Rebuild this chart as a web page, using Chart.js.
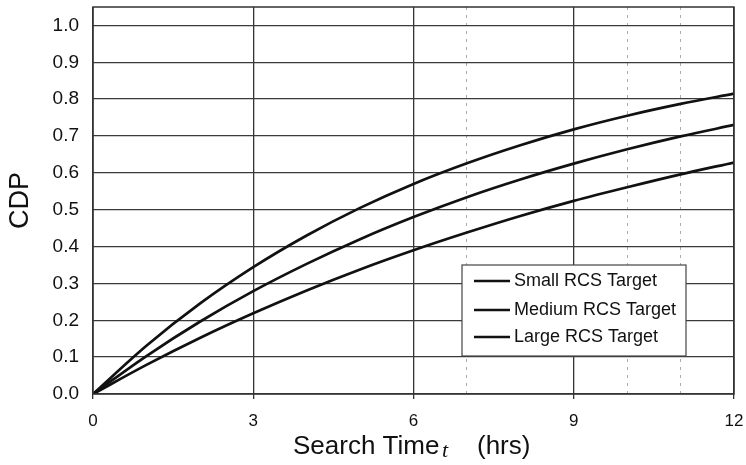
<!DOCTYPE html>
<html lang="en">
<head>
  <meta charset="UTF-8">
  <title>CDP vs Search Time</title>
  <script src="https://cdn.jsdelivr.net/npm/chart.js"></script>
  <style>
    body { margin: 0; background: #fff; }
    #wrap { width: 746px; height: 465px; }
  </style>
</head>
<body>
  <div id="wrap"><canvas id="cdpChart" width="746" height="465"></canvas></div>

  <script>
    // values, one per hour
    const hours = [0, 1, 2, 3, 4, 5, 6, 7, 8, 9, 10, 11, 12];
    const cdpSmall = [0, 0.131, 0.245, 0.344, 0.430, 0.505, 0.570, 0.626, 0.675, 0.718, 0.755, 0.787, 0.815];
    const cdpMedium = [0, 0.103, 0.196, 0.279, 0.353, 0.420, 0.480, 0.534, 0.582, 0.625, 0.664, 0.699, 0.730];
    const cdpLarge = [0, 0.079, 0.152, 0.219, 0.281, 0.338, 0.390, 0.438, 0.483, 0.524, 0.561, 0.596, 0.628];
    const seriesNames = ['Small RCS Target', 'Medium RCS Target', 'Large RCS Target'];
    const xLabelTicks = [0, 3, 6, 9, 12];
    const yTickValues = [0, 0.1, 0.2, 0.3, 0.4, 0.5, 0.6, 0.7, 0.8, 0.9, 1.0];
    const dottedHours = [7, 10, 11]; // faint dotted verticals in the scan

    const fonte = "'Liberation Sans', Arial, Helvetica, sans-serif";

    function pontos(lista) {
      return hours.map(function (h, i) { return { x: h, y: lista[i] }; });
    }

    // frame around the plot + x title (with italic t) + legend box inside the plot
    const extras = {
      id: 'extras',
      afterDraw(chart) {
        const ctx = chart.ctx;
        const a = chart.chartArea;
        ctx.save();

        ctx.strokeStyle = '#333';
        ctx.lineWidth = 1.5;
        ctx.strokeRect(a.left, a.top, a.right - a.left, a.bottom - a.top);

        // legend
        const lx = a.left + 369, ly = a.top + 258, lw = 224, lh = 91;
        ctx.fillStyle = '#fff';
        ctx.fillRect(lx, ly, lw, lh);
        ctx.strokeStyle = '#444';
        ctx.lineWidth = 1.2;
        ctx.strokeRect(lx, ly, lw, lh);
        ctx.font = '18px ' + fonte;
        ctx.textBaseline = 'middle';
        ctx.textAlign = 'left';
        const rows = [16, 45, 72];
        for (let i = 0; i < seriesNames.length; i++) {
          ctx.strokeStyle = '#111';
          ctx.lineWidth = 2.5;
          ctx.beginPath();
          ctx.moveTo(lx + 12, ly + rows[i]);
          ctx.lineTo(lx + 48, ly + rows[i]);
          ctx.stroke();
          ctx.fillStyle = '#111';
          ctx.fillText(seriesNames[i], lx + 52, ly + rows[i]);
        }

        // x axis title
        const tx = a.left + 200;
        const ty = a.bottom + 60;
        ctx.textBaseline = 'alphabetic';
        ctx.fillStyle = '#111';
        ctx.font = '26px ' + fonte;
        ctx.fillText('Search Time', tx, ty);
        ctx.font = 'italic 22px "Liberation Serif", "Times New Roman", serif';
        ctx.fillText('t', tx + 149, ty + 3);
        ctx.font = '26px ' + fonte;
        ctx.fillText('(hrs)', tx + 184, ty);

        ctx.restore();
      }
    };

    const ctx = document.getElementById('cdpChart').getContext('2d');
    const cdpChart = new Chart(ctx, {
      type: 'line',
      data: {
        datasets: [
          { label: seriesNames[0], data: pontos(cdpSmall) },
          { label: seriesNames[1], data: pontos(cdpMedium) },
          { label: seriesNames[2], data: pontos(cdpLarge) }
        ]
      },
      options: {
        responsive: false,
        animation: false,
        layout: { padding: { top: 7, right: 12, left: 0, bottom: 0 } },
        elements: {
          point: { radius: 0 },
          line: { borderColor: '#111', borderWidth: 2.7, tension: 0.4, cubicInterpolationMode: 'monotone', fill: false }
        },
        plugins: {
          legend: { display: false },
          tooltip: { enabled: false }
        },
        scales: {
          x: {
            type: 'linear',
            min: 0,
            max: 12,
            afterBuildTicks: function (s) { s.ticks = hours.map(function (h) { return { value: h }; }); },
            afterFit: function (s) { s.height = 71; s.paddingLeft = 0; s.paddingRight = 0; },
            ticks: {
              autoSkip: false,
              maxRotation: 0,
              padding: 12,
              color: '#111',
              font: { family: fonte, size: 17 },
              callback: function (v) { return xLabelTicks.includes(v) ? String(v) : ''; }
            },
            grid: {
              drawTicks: true,
              tickLength: 5,
              lineWidth: function (c) { return dottedHours.includes(c.tick && c.tick.value) ? 1 : 1.3; },
              color: function (c) {
                const v = c.tick && c.tick.value;
                if (xLabelTicks.includes(v)) return '#333';
                if (dottedHours.includes(v)) return '#aaa';
                return 'rgba(0,0,0,0)';
              },
              tickColor: function (c) {
                return xLabelTicks.includes(c.tick && c.tick.value) ? '#333' : 'rgba(0,0,0,0)';
              }
            },
            border: {
              display: false,
              dash: function (c) {
                return (c.tick && dottedHours.includes(c.tick.value)) ? [3, 5] : [];
              }
            }
          },
          y: {
            min: 0,
            max: 1.05,
            afterBuildTicks: function (s) { s.ticks = yTickValues.map(function (v) { return { value: v }; }); },
            afterFit: function (s) { s.width = 93; s.paddingTop = 0; s.paddingBottom = 0; },
            ticks: {
              padding: 14,
              color: '#111',
              font: { family: fonte, size: 19 },
              callback: function (v) { return v.toFixed(1); }
            },
            grid: {
              drawTicks: false,
              color: '#3a3a3a',
              lineWidth: 1.3
            },
            border: { display: false },
            title: {
              display: true,
              text: 'CDP',
              color: '#111',
              font: { family: fonte, size: 27 },
              padding: { top: 4, bottom: 0 }
            }
          }
        }
      },
      plugins: [extras]
    });
  </script>
</body>
</html>
